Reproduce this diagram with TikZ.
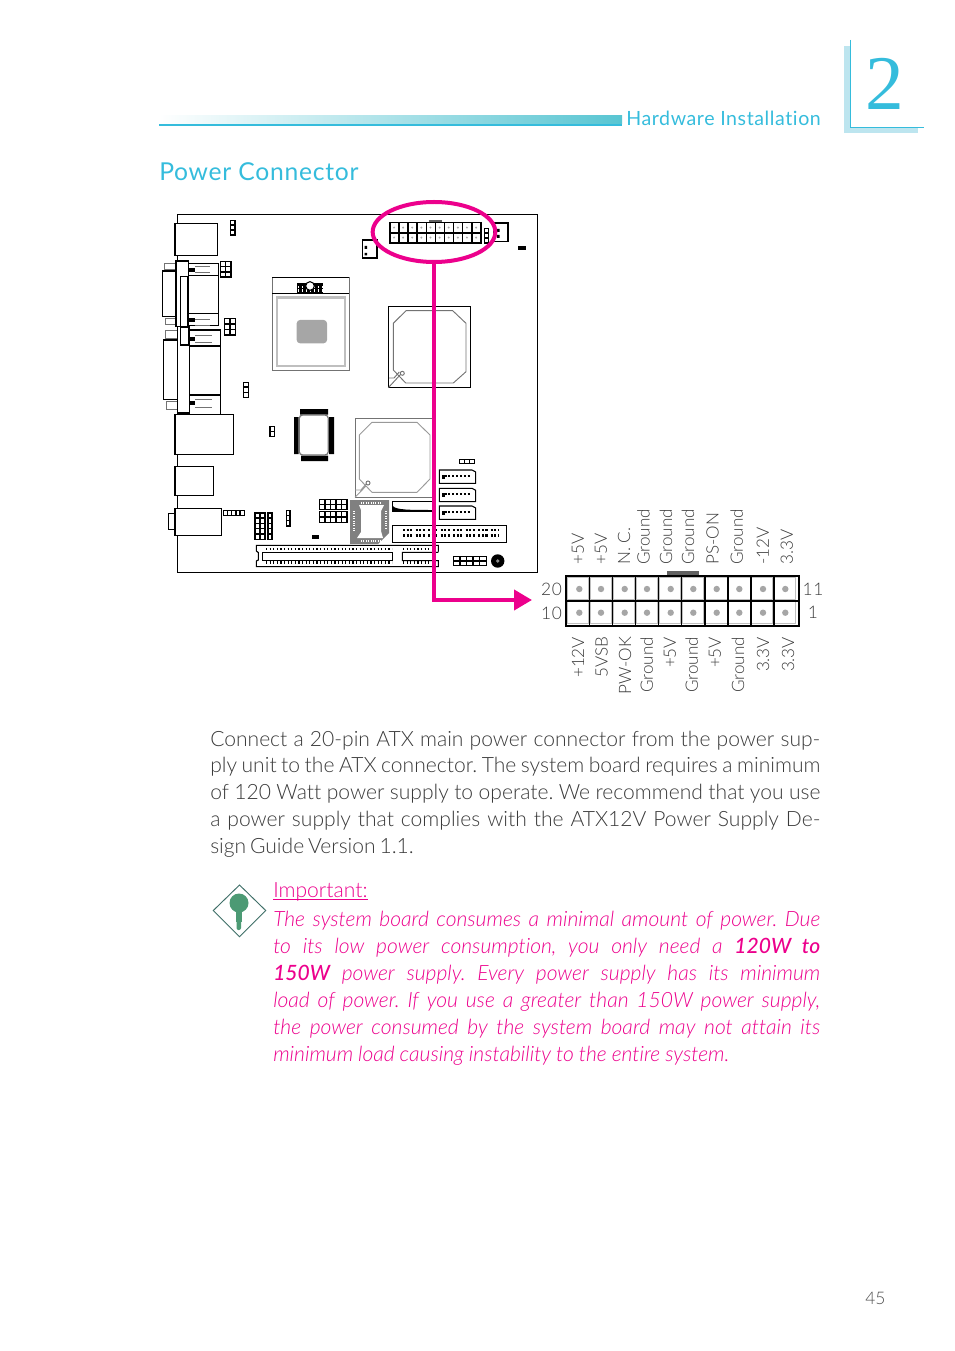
\documentclass[tikz,border=0pt]{standalone}
\usepackage{fontspec}
\usepackage{tikz}
\usetikzlibrary{shapes.geometric,arrows.meta}
\setmainfont{Lato}[UprightFont=* Light,ItalicFont=* Light Italic,BoldItalicFont=* Medium Italic,Ligatures=NoCommon]
\newfontfamily\headfont{Lato}[UprightFont=* Regular,LetterSpace=3,Ligatures=NoCommon]
\newfontfamily\pinfont{Lato}[UprightFont=* Light,LetterSpace=5]
\newfontfamily\numfont{Liberation Serif}
\definecolor{teal}{HTML}{35BCDC}
\definecolor{tealband}{HTML}{58C5D2}
\definecolor{tealpale}{HTML}{BDE5EF}
\definecolor{magenta}{HTML}{EC008C}
\definecolor{inktext}{HTML}{3A3A3A}
\definecolor{keygreen}{HTML}{4C9A74}
\definecolor{keyline}{HTML}{3F6F68}
\frenchspacing
\tikzset{
  partline/.style={draw=black,line width=0.8pt},
  thingray/.style={draw=black!55,line width=0.7pt},
  bodyline/.style={anchor=base west,inner sep=0pt,text=inktext,font=\fontsize{15.8}{20}\selectfont},
  noteline/.style={anchor=base west,inner sep=0pt,text=magenta,font=\fontsize{15.8}{20}\selectfont\itshape},
  pinlabel/.style={inner sep=0pt,rotate=90,text=inktext,font=\fontsize{12.8}{14}\selectfont},
  pinnumber/.style={inner sep=0pt,text=inktext,font=\fontsize{13}{15}\selectfont\pinfont},
  hotline/.style={draw=magenta,line width=3pt},
}
% x y cols rows cell-width cell-height (pixels, top left corner)
\newcommand{\pinblock}[6]{%
  \fill [black] (#1,#2) rectangle ++({#3*#5+1.2},{#4*#6+1.2});
  \foreach \c in {1,...,#3} \foreach \r in {1,...,#4}
    \fill [white] ({#1+1.2+(\c-1)*#5},{#2+1.2+(\r-1)*#6}) rectangle ++({#5-1.4},{#6-1.4});
}
\newcommand{\sataport}[1]{%
  \draw [partline] (439.3,#1) -- (472,#1) -- (475.7,{#1+2}) -- (475.7,{#1+13.3}) -- (439.3,{#1+13.3}) -- cycle;
  \fill [black] (441.5,{#1+4.5}) rectangle (444.5,{#1+9});
  \draw [black,line width=1.3pt,dash pattern=on 1.5pt off 1.4pt] (444.5,{#1+6}) -- (470,{#1+6});
}
\begin{document}
\begin{tikzpicture}[x=0.75pt,y=-0.75pt]
\useasboundingbox (0,0) rectangle (954,1351);
% page head
\shade [left color=white,right color=tealband] (159,116) rectangle (622,124);
\fill [teal] (159,124) rectangle (622,126);
\fill [tealpale] (844,46) rectangle (850,132.7);
\fill [tealpale] (844,127.3) rectangle (917.7,132.7);
\draw [teal,line width=1pt] (850.3,40) -- (850.3,127.3) -- (924,127.3);
\node [anchor=base west,inner sep=0pt,text=teal,font=\fontsize{14.7}{18}\selectfont\headfont] (chaptitle) at (626,126) {Hardware Installation};
\node [anchor=base,inner sep=0pt,text=teal,font=\fontsize{58}{60}\selectfont\numfont] (chapnum) at (885,110) {2};
\node [anchor=base west,inner sep=0pt,text=teal,font=\fontsize{18.5}{24}\selectfont\headfont] (sectitle) at (159,181) {Power Connector};
% board
\draw [partline] (177.3,214.3) rectangle (537.3,572.3);
\draw [partline,fill=white] (175,223.3) rectangle (217.7,255.3);
\pinblock{230}{219.7}{1}{3}{4.4}{5}
% upper D-sub
\draw [partline,fill=white] (188,263.3) rectangle (218.7,325.7);
\draw [partline] (188,275.3) -- (218.7,275.3) (188,313.3) -- (218.7,313.3);
\draw [partline,fill=white] (162.3,271) rectangle (177,316.7);
\draw [thingray,fill=white] (164.7,263.3) rectangle (176,269.3);
\draw [thingray,fill=white] (165.3,318) rectangle (176,324.3);
\draw [partline,fill=white] (176,261) rectangle (188.3,326.7);
\fill [black] (179.5,276) rectangle (188.3,326);
\fill [white] (180.5,277) rectangle (186.5,326);
\fill [black] (188.3,268.5) rectangle (195,272.5);
\fill [black] (188.3,318) rectangle (195,322);
\draw [thingray] (195,266) -- (210,266) (195,272) -- (210,272) (195,319) -- (210,319) (195,325) -- (210,325);
\pinblock{220}{261}{2}{3}{5.2}{5.2}
\pinblock{224}{318.3}{2}{3}{5.4}{5.4}
% lower D-sub
\draw [partline,fill=white] (189,330) rectangle (220.7,415);
\draw [partline] (189,346) -- (220.7,346) (189,395) -- (220.7,395);
\draw [partline,fill=white] (163.3,340) rectangle (178,399.3);
\draw [thingray,fill=white] (165,330) rectangle (177,338);
\draw [thingray,fill=white] (166.3,401.7) rectangle (177,409.7);
\draw [partline,fill=white] (177.7,326.7) rectangle (189.3,413);
\fill [black] (180,326.7) rectangle (189.3,345.7);
\fill [white] (181,328) rectangle (188,344.5);
\fill [black] (190,337.5) rectangle (195,341.5);
\fill [black] (190,401) rectangle (195,405);
\draw [thingray] (195,335) -- (212,335) (195,342) -- (212,342) (195,399) -- (212,399) (195,407) -- (212,407);
\pinblock{242.7}{381.7}{1}{3}{5}{5}
% processor
\draw [thingray,line width=1pt] (272.3,277.3) rectangle (349.3,370.7);
\draw [partline] (272.3,277.3) -- (349.3,277.3) (272.3,293.3) -- (349.3,293.3);
\draw [black!25,line width=2.2pt] (277,297.5) rectangle (345,366);
\fill [black!35,rounded corners=2.5pt] (296.7,320) rectangle (327,343.3);
\fill [black] (297,283.3) rectangle (323,293);
\draw [white,line width=1.6pt,dash pattern=on 1pt off 2pt] (298,287) -- (323,287) (298,290.5) -- (323,290.5);
\draw [partline,fill=white] (310,286) circle (4.3);
% power connector on the board
\fill [black!62] (429,220) rectangle (442,222.6);
\pinblock{389.3}{222.3}{10}{2}{9.12}{10.1}
\foreach \x in {0,...,9} {
  \fill [black!35] (394+\x*9.12,227.6) circle (1.1);
  \fill [black!35] (394+\x*9.12,237.6) circle (1.1);
}
% fan headers and jumpers near the power connector
\draw [partline,line width=1.2pt] (362.3,240) rectangle (376.7,258.3);
\fill [black] (364.5,246) rectangle (367,249) (364.5,253) rectangle (367,255.5);
\draw [partline,line width=1.2pt] (493.3,223.3) rectangle (507.7,241.7);
\fill [black] (497,229) rectangle (499.5,232) (497,235) rectangle (499.5,238);
\pinblock{484}{227.7}{1}{3}{4}{5}
\fill [black] (518.3,246) rectangle (525.7,249.7);
% small octagon chip
\draw [partline] (388.3,306.7) rectangle (470.7,387.7);
\draw [thingray] (406,310.7) -- (452.7,310.7) -- (466,323.3) -- (466,371.7) -- (453.3,383) -- (405.7,383) -- (393.3,370) -- (393.3,323.3) -- cycle;
\draw [thingray] (388.3,387.7) -- (401,374) (389,378) -- (394,378) -- (399.3,372);
\draw [thingray,fill=white] (402.3,373.3) circle (2);
% main chip
\draw [thingray] (355,497.3) -- (355,418.3) -- (433,418.3) -- (433,497.3) -- cycle;
\draw [black!40,line width=0.7pt] (372,422.3) -- (417,422.3) -- (430,435) -- (430,479) -- (417,492.3) -- (372,492.3) -- (359.3,479) -- (359.3,435) -- cycle;
\draw [black!40,line width=0.7pt] (355,497.3) -- (366,486) (355,490) -- (361,490) -- (366,484);
\draw [thingray,fill=white] (368,483) circle (2);
% lower left
\draw [partline,fill=white] (175,414.3) rectangle (233.3,454.3);
\draw [partline,fill=white] (175,466.3) rectangle (213.3,495.3);
\draw [partline,fill=white] (168.3,513.3) rectangle (175,529.3);
\draw [partline,fill=white] (175,508.3) rectangle (221.3,535.3);
\pinblock{222.7}{510}{5}{1}{4.2}{5}
\pinblock{269.3}{425.7}{1}{2}{4.5}{5}
% square chip with pins
\fill [black] (300,409) rectangle (328,414.5) (301,455.5) rectangle (328,461);
\fill [black] (294,417) rectangle (298.5,454) (329,417) rectangle (334,454);
\draw [black!55,line width=0.9pt,rounded corners=2.5pt] (299.3,415) rectangle (328.3,455);
% jumper groups above the slot
\pinblock{254.3}{512.3}{2}{5}{5}{5.3}
\pinblock{267.3}{512.3}{1}{5}{4.2}{5.3}
\pinblock{285.7}{509.7}{1}{3}{3.6}{5.2}
\pinblock{319}{499}{5}{2}{5.5}{5}
\pinblock{319}{511}{5}{2}{5.5}{5.5}
\fill [black] (312,535) rectangle (319,539);
% long slot
\draw [partline] (438.3,551.7) -- (438.3,545.3) -- (256.3,545.3) -- (256.3,551) -- (258.3,552.5) -- (258.3,560) -- (256.3,561) -- (256.3,566.7) -- (438.3,566.7) -- (438.3,560.7) -- (402.3,560.7) -- (402.3,552.3) -- (438.3,552.3);
\draw [partline] (262.3,552.3) rectangle (392.7,560.7);
\draw [black,line width=2.2pt,dash pattern=on 0.9pt off 1.8pt] (266,549) -- (392,549) (266,562.5) -- (392,562.5) (403,549) -- (431,549) (403,562.5) -- (431,562.5);
% gray chip
\fill [black!50] (350,500) -- (389,500) -- (389,533) -- (378,544) -- (350,544) -- cycle;
\fill [white] (359,505) -- (384,505) -- (381,511) -- (381,531) -- (383,538) -- (357,538) -- (361,532) -- (361,510) -- cycle;
\draw [white,line width=2pt,dash pattern=on 0.8pt off 1pt] (361,503) -- (381,503) (361,541) -- (381,541) (354,511) -- (354,532) (386,511) -- (386,530);
% clock socket and sata
\draw [partline] (433,501.3) -- (392.3,501.3) -- (392.3,511.3) -- (433,511.3);
\fill [black] (392.8,506) .. controls (396,510) and (410,510) .. (433,510) -- (433,511) -- (392.8,511) -- cycle;
\pinblock{459}{459}{3}{1}{5}{3.8}
\sataport{470}
\sataport{488.3}
\sataport{506}
% ide header and corner parts
\draw [partline] (392.3,525.3) rectangle (506.7,542.7);
\fill [black] (444,541.5) rectangle (455,542.7);
\draw [black,line width=2pt,dash pattern=on 1.6pt off 1.1pt on 1.6pt off 1.1pt on 1.6pt off 2.4pt] (403,530) -- (498,530) (403,535.5) -- (498,535.5);
\pinblock{452.7}{555.7}{5}{2}{6.6}{4.6}
\fill [black] (497.7,561) circle (6.7);
\fill [black!45] (497.7,561) circle (1.8);
% power connector enlarged
\fill [black!62] (667,571.3) rectangle (699.3,576);
\foreach \x in {566.7,589.3,612.3,635.3,658.3,681.3,705,728,750.7,773.7} {
  \foreach \y in {577,601} {
    \draw [black!25,line width=0.5pt,fill=white] (\x+0.6,\y+0.4) rectangle ++(21.4,22.4);
  }
}
\foreach \x in {579.3,601,624.7,647,670.7,693.3,716.7,739.3,763,785.3} {
  \fill [black!35] (\x,589) circle (3.2);
  \fill [black!35] (\x,612.7) circle (3.2);
}
\draw [black,line width=1.6pt] (565.7,576) rectangle (799.3,626);
\draw [black,line width=1.2pt] (565.7,600.7) -- (799.3,600.7);
\foreach \x in {589.3,612.3,635.3,658.3,681.3,705,728,750.7,773.7}
  \draw [black,line width=1.2pt] (\x,576) -- (\x,626);
\foreach \x/\t [count=\i] in {578/+5V,601/+5V,624/N. C.,643.5/Ground,666/Ground,688/Ground,712.7/PS-ON,736.7/Ground,762.7/-12V,786.7/3.3V}
  \node [pinlabel,anchor=west] (top\i) at (\x,565) {\t};
\foreach \x/\t [count=\i] in {578/+12V,601.7/5VSB,625/PW-OK,646.7/Ground,670/+5V,691.7/Ground,715/+5V,738/Ground,763/3.3V,788/3.3V}
  \node [pinlabel,anchor=east] (bot\i) at (\x,636.7) {\t};
\node [pinnumber] (pintwenty) at (551.5,589) {20};
\node [pinnumber] (pinten) at (551.5,613) {10};
\node [pinnumber] (pineleven) at (813,589) {11};
\node [pinnumber] (pinone) at (813,612.5) {1};
% marker
\node [ellipse,hotline,minimum width=92pt,minimum height=45pt,inner sep=0pt] (ring) at (434,232) {};
\coordinate (atxtip) at (532,600);
\draw [hotline,-{Triangle[length=13.5pt,width=15pt]}] (ring.south) |- (atxtip);
% paragraph
\node [bodyline] (para1) at (210,746) {\makebox[457.5pt][s]{Connect a 20-pin ATX main power connector from the power sup-}};
\node [bodyline] (para2) at (210,772.5) {\makebox[457.5pt][s]{ply unit to the ATX connector. The system board requires a minimum}};
\node [bodyline] (para3) at (210,799) {\makebox[457.5pt][s]{of 120 Watt power supply to operate. We recommend that you use}};
\node [bodyline] (para4) at (210,826) {\makebox[457.5pt][s]{a power supply that complies with the ATX12V Power Supply De-}};
\node [bodyline] (para5) at (210,853) {\makebox[147.7pt][s]{sign Guide Version 1.1.}};
% note
\path [draw=keyline,line width=0.7pt,fill=white] (239.5,885) -- (265.7,910.5) -- (239.5,936.7) -- (213.3,910.5) -- cycle;
\fill [keygreen] (239,903) circle (9.5);
\fill [keygreen] (236,908) rectangle (242,922);
\fill [keygreen,rounded corners=1.5pt] (236.5,918) rectangle (241,930);
\node [noteline,font=\fontsize{15.8}{20}\selectfont\upshape] (note0) at (273,897.5) {Important:};
\draw [magenta,line width=0.8pt] ([yshift=-1.2pt]note0.base west) -- ([yshift=-1.2pt]note0.base east);
\node [noteline] (note1) at (273,926) {\makebox[410.2pt][s]{The system board consumes a minimal amount of power. Due}};
\node [noteline] (note2) at (273,953) {\makebox[410.2pt][s]{to its low power consumption, you only need a \textbf{120W to}}};
\node [noteline] (note3) at (273,980) {\makebox[410.2pt][s]{\textbf{150W} power supply. Every power supply has its minimum}};
\node [noteline] (note4) at (273,1007) {\makebox[410.2pt][s]{load of power. If you use a greater than 150W power supply,}};
\node [noteline] (note5) at (273,1034) {\makebox[410.2pt][s]{the power consumed by the system board may not attain its}};
\node [noteline] (note6) at (273,1061) {\makebox[342pt][s]{minimum load causing instability to the entire system.}};
\node [anchor=base west,inner sep=0pt,text=black!70,font=\fontsize{13}{15}\selectfont] (pageno) at (865,1304) {45};
\end{tikzpicture}
\end{document}
